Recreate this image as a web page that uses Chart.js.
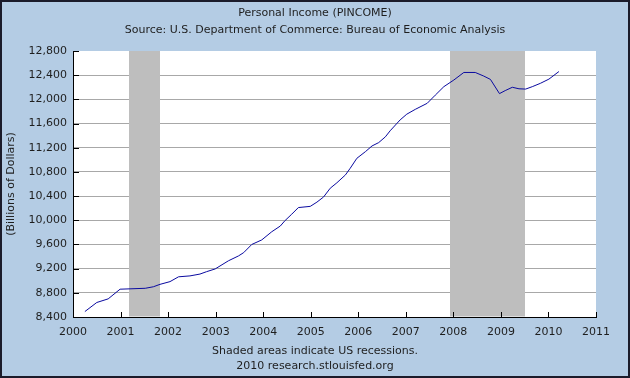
<!DOCTYPE html>
<html>
<head>
<meta charset="utf-8">
<script src="https://cdn.jsdelivr.net/npm/chart.js@4"></script>
<style>
  html, body { margin: 0; padding: 0; background: #b4cce4; }
  canvas { display: block; }
</style>
</head>
<body>
<canvas id="c" width="630" height="378"></canvas>
<script>
// ---- data ----
const titleText = "Personal Income (PINCOME)";
const subtitleText = "Source: U.S. Department of Commerce: Bureau of Economic Analysis";
const footerLines = ["Shaded areas indicate US recessions.", "2010 research.stlouisfed.org"];
const yAxisTitle = "(Billions of Dollars)";

// dates as decimal years, values in billions of dollars
const dates = [
  2000.25, 2000.50, 2000.74, 2000.99, 2001.52, 2001.69, 2001.83, 2002.04,
  2002.22, 2002.46, 2002.67, 2002.81, 2002.99, 2003.27, 2003.48, 2003.59,
  2003.76, 2003.97, 2004.18, 2004.36, 2004.46, 2004.60, 2004.74, 2004.99,
  2005.13, 2005.27, 2005.41, 2005.55, 2005.73, 2005.83, 2005.97, 2006.15,
  2006.29, 2006.43, 2006.57, 2006.67, 2006.88, 2007.02, 2007.20, 2007.45,
  2007.62, 2007.80, 2008.01, 2008.22, 2008.46, 2008.64, 2008.78, 2008.97,
  2009.09, 2009.24, 2009.38, 2009.52, 2009.66, 2009.83, 2010.01, 2010.22
];
const income = [
  8490, 8640, 8700, 8860, 8875, 8900, 8940, 8985,
  9065, 9080, 9110, 9150, 9195, 9330, 9410, 9465,
  9600, 9675, 9810, 9905, 9995, 10100, 10210, 10230,
  10300, 10385, 10530, 10620, 10750, 10860, 11025, 11135,
  11230, 11285, 11380, 11480, 11660, 11755, 11835, 11935,
  12070, 12210, 12320, 12445, 12445, 12385, 12330, 12095,
  12145, 12200, 12175, 12170, 12210, 12265, 12335, 12460
];
const recessionStarts = [2001.17, 2007.92];
const recessionEnds   = [2001.83, 2009.50];
const yMin = 8400, yMax = 12800, yStep = 400;
const xMin = 2000, xMax = 2011, xStep = 1;

// ---- styling ----
const FONT = "'DejaVu Sans', Verdana, sans-serif";
const BG = '#b4cce4';
const TEXT = '#1e1e1e';

const points = dates.map((d, i) => ({ x: d, y: income[i] }));

const decorPlugin = {
  id: 'decor',
  beforeDraw(chart) {
    const { ctx, chartArea: a } = chart;
    ctx.save();
    ctx.fillStyle = BG;
    ctx.fillRect(0, 0, chart.width, chart.height);
    ctx.fillStyle = '#ffffff';
    ctx.fillRect(a.left, a.top, a.right - a.left, a.bottom - a.top);
    ctx.restore();
  },
  beforeDatasetsDraw(chart) {
    const { ctx, chartArea: a, scales } = chart;
    const xs = scales.x;
    ctx.save();
    ctx.fillStyle = '#bebebe';
    for (let i = 0; i < recessionStarts.length; i++) {
      const x0 = xs.getPixelForValue(recessionStarts[i]);
      const x1 = xs.getPixelForValue(recessionEnds[i]);
      ctx.fillRect(Math.round(x0), a.top, Math.round(x1) - Math.round(x0), a.bottom - a.top - 0.5);
    }
    // inner tick marks
    ctx.strokeStyle = '#000000';
    ctx.lineWidth = 1;
    ctx.beginPath();
    scales.y.ticks.forEach(t => {
      const y = Math.round(scales.y.getPixelForValue(t.value)) + 0.5;
      ctx.moveTo(a.left, y);
      ctx.lineTo(a.left + 6, y);
    });
    xs.ticks.forEach(t => {
      const x = Math.round(xs.getPixelForValue(t.value)) + 0.5;
      ctx.moveTo(x, a.bottom);
      ctx.lineTo(x, a.bottom - 5);
    });
    ctx.stroke();
    ctx.restore();
  },
  afterDraw(chart) {
    const { ctx } = chart;
    ctx.save();
    ctx.strokeStyle = '#1b1b2a';
    ctx.lineWidth = 2;
    ctx.strokeRect(1, 1, chart.width - 2, chart.height - 2);
    ctx.restore();
  }
};

new Chart(document.getElementById('c'), {
  type: 'line',
  data: {
    datasets: [{
      data: points,
      borderColor: '#0a0aa0',
      borderWidth: 1,
      pointRadius: 0,
      tension: 0,
      fill: false
    }]
  },
  options: {
    responsive: false,
    animation: false,
    devicePixelRatio: 1,
    layout: { padding: 0 },
    plugins: {
      legend: { display: false },
      tooltip: { enabled: false },
      title: {
        display: true,
        text: [titleText, subtitleText],
        color: TEXT,
        font: { family: FONT, size: 11, weight: 'normal', lineHeight: '17px' },
        padding: { top: 5, bottom: 12 }
      },
      subtitle: {
        display: true,
        position: 'bottom',
        text: footerLines,
        color: TEXT,
        font: { family: FONT, size: 11, weight: 'normal', lineHeight: '15px' },
        padding: { top: 0, bottom: 4.5 }
      }
    },
    scales: {
      x: {
        type: 'linear',
        min: xMin, max: xMax,
        ticks: {
          stepSize: xStep,
          color: TEXT,
          padding: 9,
          font: { family: FONT, size: 11 },
          maxRotation: 0,
          callback: v => String(v)
        },
        grid: { display: false, drawTicks: false },
        border: { display: true, color: '#000000', width: 1 },
        afterFit(s) { s.height = 26.5; }
      },
      y: {
        min: yMin, max: yMax,
        ticks: {
          stepSize: yStep,
          color: TEXT,
          padding: 6,
          font: { family: FONT, size: 11 },
          callback: v => v.toLocaleString('en-US')
        },
        grid: {
          color: c => (c.tick && c.tick.value === yMax) ? 'rgba(0,0,0,0)' : '#a8a8a8',
          lineWidth: 1,
          drawTicks: false
        },
        border: { display: true, color: '#000000', width: 1 },
        title: {
          display: true,
          text: yAxisTitle,
          color: TEXT,
          font: { family: FONT, size: 11 },
          padding: { top: 5, bottom: 0 }
        },
        afterFit(s) { s.width = 73; }
      },
      yR: {
        position: 'right',
        display: true,
        grid: { display: false, drawTicks: false },
        ticks: { display: false },
        border: { display: false },
        afterFit(s) { s.width = 34; }
      }
    }
  },
  plugins: [decorPlugin]
});
</script>
</body>
</html>
